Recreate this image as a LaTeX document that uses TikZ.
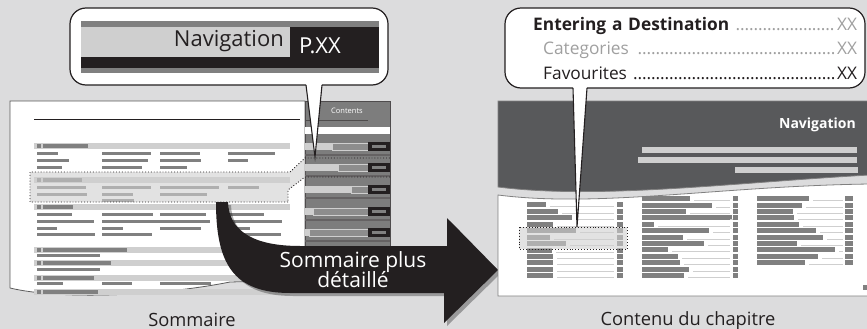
\documentclass[tikz,border=0pt]{standalone}
\usepackage{fontspec}
\setmainfont{Open Sans}
\usetikzlibrary{positioning}
\definecolor{bggray}{HTML}{DCDCDD}
\definecolor{ink}{HTML}{231F20}
\definecolor{bargray}{HTML}{808080}
\definecolor{lightbar}{HTML}{CFCFCF}
\definecolor{tabgray}{HTML}{7D7D7D}
\definecolor{headgray}{HTML}{58595B}
\definecolor{softgray}{HTML}{A0A0A0}
\newcommand{\tocdots}{\leaders\hbox to 0.26em{\hss.\hss}\hfill}
\tikzstyle{bar} = [fill=bargray]
\tikzstyle{headbar} = [fill=lightbar]
\tikzstyle{callout} = [draw=ink, fill=white, line width=1.2pt, rounded corners=16pt]
\tikzstyle{pointer} = [draw=ink, line width=1.1pt, line join=miter]
\tikzstyle{highlight} = [draw=ink, dotted, line width=0.9pt]
\tikzstyle{leader} = [draw=lightbar, line width=0.9pt]
\tikzstyle{caption} = [font=\fontsize{18.3}{21}\selectfont, text=ink, inner sep=0]

\begin{document}
\begin{tikzpicture}[x=1pt, y=-1pt]
	\useasboundingbox (0,0) rectangle (867,329);
	\fill[bggray] (0,0) rectangle (867,329);

	\filldraw[fill=white, draw=bargray!70!black, line width=0.8pt] (10,288) -- (10,101) -- (305,101) -- (305,280) -- (230,282) .. controls (160,296) and (60,300) .. (10,288);
	\draw[ink, line width=1pt] (34,119) -- (300,119);
	\foreach \y/\l in {143/88, 177/82, 204/73, 247/127, 260/111, 275/94, 289/98} {
		\fill[headbar] (34,\y) rectangle (290,\y+6);
		\fill[bar] (37,\y+1) rectangle (41,\y+5);
		\fill[bar] (43,\y+1) rectangle (\l,\y+5);
	}
	\foreach \x/\y/\l in {37/152/21, 102/152/14, 116/152/35, 160/152/40, 228/152/47, 37/159/32, 102/159/46, 160/159/41, 228/159/20, 37/166/25, 102/166/40, 160/166/27, 37/186/49, 102/186/49, 160/186/59, 228/186/31, 37/193/50, 102/193/31, 160/193/47, 102/199/32, 37/213/35, 102/213/51, 160/213/46, 228/213/36, 37/220/57, 102/220/108, 228/220/54, 37/227/20, 102/227/21, 160/227/41, 228/227/22, 37/233/58, 102/233/50, 228/233/53, 37/254/63, 37/268/63, 37/282/26, 102/282/30, 160/282/51} {
		\fill[bar] (\x,\y) rectangle +(\l,3);
	}

	\filldraw[fill=tabgray, draw=ink!80, line width=0.8pt] (305,101) rectangle (390,262);
	\node[text=white, font=\fontsize{7.5}{9}\selectfont, inner sep=0] (tabtitle) at (347,111) {Contents};
	\draw[ink!80, line width=0.8pt] (305,120) -- (368,120);
	\fill[white] (305,127) rectangle (390,134);
	\foreach \y/\l in {143/332, 164/338, 186/351, 208/313, 229/309} {
		\fill[lightbar] (305,\y) rectangle (\l,\y+7);
		\filldraw[fill=bargray!90, draw=lightbar, line width=0.5pt] (\l,\y) rectangle (368,\y+7);
		\fill[ink] (368,\y-1) rectangle (390,\y+8);
		\fill[bargray] (372,\y+2) rectangle (386,\y+5);
		\fill[ink!70] (305,\y+11) rectangle (390,\y+13);
	}

	\fill[lightbar, opacity=0.6] (30,172) -- (290,172) -- (305,158) -- (305,177) -- (288,190) -- (288,202) -- (30,202) -- cycle;
	\draw[highlight] (288,202) -- (30,202) -- (30,172) -- (290,172) -- (305,158) -- (390,158);
	\draw[highlight] (390,177) -- (305,177) -- (288,190) -- (288,202);

	\draw[callout] (70,8) rectangle (388,85);
	\fill[bargray] (81,21) rectangle (379,27);
	\fill[lightbar] (81,27) rectangle (290,57);
	\fill[ink] (290,27) rectangle (379,68);
	\fill[ink] (81,57) rectangle (379,68);
	\fill[bargray] (81,68) rectangle (379,73);
	\node[anchor=base east, text=ink, font=\fontsize{22}{26}\selectfont, inner sep=0] (chapter) at (284,47) {Navigation};
	\node[anchor=base west, text=white, font=\fontsize{22}{26}\selectfont, inner sep=0] (page) at (299,53) {P.XX};
	\fill[white] (306,83) -- (322,83) -- (315,157) -- cycle;
	\draw[pointer] (306,85) -- (315,157) -- (322,85);

	\fill[black, opacity=0.3] (219,205) .. controls (219,265) and (235,296) .. (293,296) -- (447,296) -- (447,326) -- (501,273) -- (450,221) -- (450,249) -- (303,249) .. controls (258,249) and (232,235) .. (231,205) -- cycle;
	\fill[ink] (216,202) .. controls (216,262) and (232,293) .. (290,293) -- (444,293) -- (444,323) -- (498,270) -- (447,218) -- (447,246) -- (300,246) .. controls (255,246) and (229,232) .. (228,202) -- cycle;
	\node[anchor=base, text=white, font=\fontsize{21}{24}\selectfont, inner sep=0] (detail1) at (353,267) {Sommaire plus};
	\node[anchor=base, text=white, font=\fontsize{21}{24}\selectfont, inner sep=0] (detail2) at (353,287) {détaillé};
	\node[caption, anchor=base] (left) at (192,326) {Sommaire};

	\filldraw[fill=white, draw=bargray, line width=0.8pt] (498,195) .. controls (600,208) and (720,186) .. (870,184) -- (870,296) -- (498,296) -- cycle;
	\filldraw[fill=headgray, draw=bargray, line width=0.8pt] (870,101) -- (498,101) -- (498,187) .. controls (600,200) and (740,182) .. (870,175);
	\node[anchor=base east, text=white, font=\bfseries\fontsize{14}{16}\selectfont, inner sep=0] (header) at (856,128) {Navigation};
	\fill[lightbar] (642,147) rectangle (857,153);
	\fill[lightbar] (638,157) rectangle (857,163);
	\fill[lightbar] (735,167) rectangle (858,173);
	\foreach \y/\l in {202/19, 209/31, 215/45, 222/26, 228/49, 235/23, 241/39, 248/25, 254/26, 260/26, 267/26, 273/26} {
		\fill[bar] (527,\y) rectangle +(\l,5);
		\draw[leader] (527+\l+4,\y+4) -- (614,\y+4);
		\fill[bar] (617,\y) rectangle (623,\y+5);
	}
	\foreach \y/\l in {196/48, 203/70, 209/44, 215/90, 222/12, 228/67, 235/41, 241/62, 247/26, 254/36, 260/38, 267/47, 273/42} {
		\fill[bar] (642,\y) rectangle +(\l,5);
		\draw[leader] (642+\l+4,\y+4) -- (730,\y+4);
		\fill[bar] (733,\y) rectangle (738,\y+5);
	}
	\foreach \y/\l in {196/52, 203/45, 209/36, 215/37, 222/42, 228/59, 235/66, 241/40, 247/78, 254/61, 260/48} {
		\fill[bar] (757,\y) rectangle +(\l,5);
		\draw[leader] (757+\l+4,\y+4) -- (843,\y+4);
		\fill[bar] (845,\y) rectangle (853,\y+5);
	}
	\fill[bar] (863,285) rectangle (867,290);
	\fill[lightbar, opacity=0.6] (519,227) rectangle (627,249);
	\draw[highlight] (519,227) rectangle (627,249);
	\node[caption, anchor=base] (right) at (688,325) {Contenu du chapitre};

	\draw[callout] (505,8) rectangle (865,88);
	\node[anchor=base west, text width=324pt, text=ink, font=\fontsize{17.3}{20}\selectfont, inner sep=0] (entry) at (533,31) {\textbf{Entering a Destination} \textcolor{softgray}{\tocdots XX}};
	\node[anchor=base west, text width=314pt, text=softgray, font=\fontsize{17.3}{20}\selectfont, inner sep=0] (sub1) at (543,55) {Categories \tocdots XX};
	\node[anchor=base west, text width=314pt, text=ink, font=\fontsize{17.3}{20}\selectfont, inner sep=0] (sub2) at (543,80) {Favourites \tocdots XX};
	\fill[white] (573,86) -- (587,86) -- (577,227) -- cycle;
	\draw[pointer] (573,88) -- (577,227) -- (587,88);
\end{tikzpicture}
\end{document}
